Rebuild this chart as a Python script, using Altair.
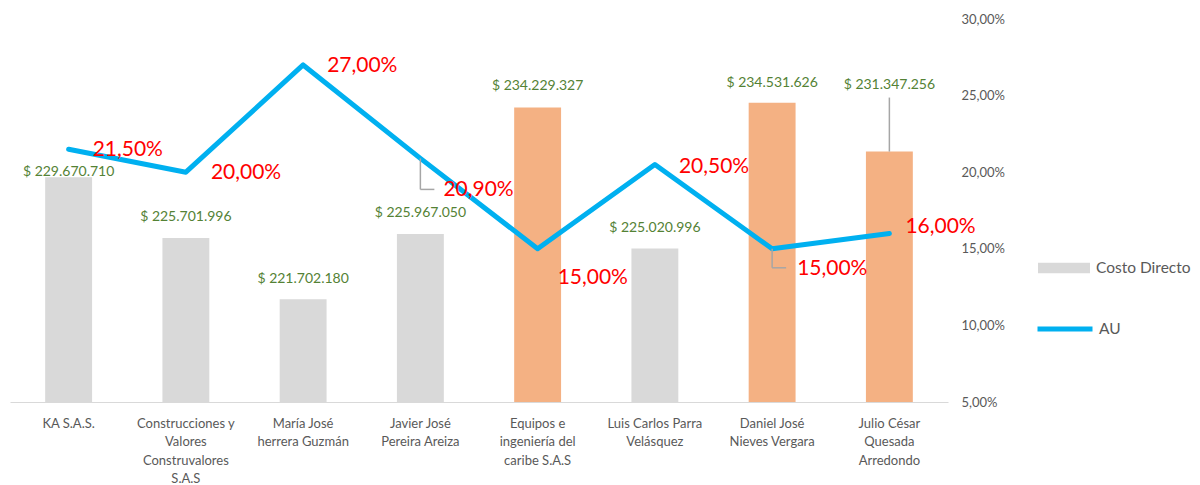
import altair as alt
import pandas as pd

# ---- data ----
categorias = [
    "KA S.A.S.",
    "Construcciones y\nValores\nConstruvalores\nS.A.S",
    "María José\nherrera Guzmán",
    "Javier José\nPereira Areiza",
    "Equipos e\ningeniería del\ncaribe S.A.S",
    "Luis Carlos Parra\nVelásquez",
    "Daniel José\nNieves Vergara",
    "Julio César\nQuesada\nArredondo",
]
costo_directo = [229670710, 225701996, 221702180, 225967050,
                 234229327, 225020996, 234531626, 231347256]
au = [21.5, 20.0, 27.0, 20.9, 15.0, 20.5, 15.0, 16.0]
eje_au_valores = [5, 10, 15, 20, 25, 30]

# ---- label nudges (pixels, layout only) ----
bar_label_dy = [-5, -21, -20, -21, -21, -20, -20, -67]
au_label_dx = [24, 25, 24, 23, 20, 24, 25, 16]
au_label_dy = [1, 1, 1, 32, 29, 2, 20, -6]

GRAY = "#d9d9d9"
ORANGE = "#f4b183"
BLUE = "#00b0f0"
GREEN = "#548235"
RED = "#ff0000"
TXT = "#595959"
LEADER = "#a6a6a6"
FONT = "Lato"

df = pd.DataFrame({
    "cat": categorias,
    "costo": costo_directo,
    "au": au,
    "idx": list(range(len(categorias))),
})
df["serie"] = ["Destacado" if v > 230000000 else "Costo Directo" for v in costo_directo]
df["serie_au"] = "AU"
df["costo_txt"] = ["$ " + f"{v:,}".replace(",", ".") for v in costo_directo]
df["au_txt"] = [f"{v:.2f}".replace(".", ",") + "%" for v in au]

base = alt.Chart(df)

x = alt.X(
    "cat:N", sort=None,
    scale=alt.Scale(paddingInner=0.6, paddingOuter=0.3),
    axis=alt.Axis(
        title=None, labelAngle=0, labelExpr="split(datum.label, '\\n')",
        domainColor=GRAY, domainWidth=1.2, ticks=False, tickSize=0,
        labelColor=TXT, labelFontSize=13, labelLineHeight=18.5,
        labelPadding=15, labelFont=FONT, grid=False,
    ),
)

ycost = alt.Y("costo:Q",
              scale=alt.Scale(domain=[215000000, 240000000], zero=False, nice=False),
              axis=None)

bar = base.mark_bar(clip=True).encode(
    x=x, y=ycost,
    fill=alt.Fill(
        "serie:N",
        scale=alt.Scale(domain=["Costo Directo", "Destacado"], range=[GRAY, ORANGE]),
        legend=alt.Legend(
            values=["Costo Directo"], title=None, orient="none",
            legendX=1028, legendY=223, padding=0,
            symbolType="M-1,-0.2H1V0.2H-1Z", symbolSize=2704,
            symbolStrokeWidth=0, labelFontSize=15.5, labelColor=TXT,
            labelFont=FONT, labelOffset=6,
        ),
    ),
)

bar_texts = []
for i, dy in enumerate(bar_label_dy):
    bar_texts.append(
        base.transform_filter(alt.datum.idx == i).mark_text(
            color=GREEN, fontSize=14, align="center", baseline="middle",
            font=FONT, dy=dy,
        ).encode(x=x, y=ycost, text="costo_txt:N")
    )

bar_leader = base.transform_filter(alt.datum.idx == 7).mark_rule(
    color=LEADER, strokeWidth=1.5, y2Offset=-54
).encode(x=x, y=ycost, y2=alt.Y2("costo:Q"))

bars_layer = alt.layer(bar, *bar_texts, bar_leader)

yau = alt.Y(
    "au:Q",
    scale=alt.Scale(domain=[5, 30], zero=False, nice=False),
    axis=alt.Axis(
        orient="right", title=None, values=eje_au_valores,
        labelExpr="replace(format(datum.value, '.2f'), '.', ',') + '%'",
        grid=False, domain=False, ticks=False, tickSize=0, labelPadding=13,
        labelFontSize=13, labelColor=TXT, labelFont=FONT,
    ),
)

line = base.mark_line(strokeWidth=5, strokeCap="round", strokeJoin="round").encode(
    x=x, y=yau,
    stroke=alt.Stroke(
        "serie_au:N",
        scale=alt.Scale(domain=["AU"], range=[BLUE]),
        legend=alt.Legend(
            title=None, orient="none", legendX=1025, legendY=280, padding=0,
            symbolType="stroke", symbolSize=3025, symbolStrokeWidth=5,
            labelFontSize=15.5, labelColor=TXT, labelFont=FONT, labelOffset=4,
        ),
    ),
)

leaders = []
for i, dy in [(3, 31), (6, 19)]:
    sub = base.transform_filter(alt.datum.idx == i)
    leaders.append(sub.mark_rule(color=LEADER, strokeWidth=1.5, y2Offset=dy).encode(
        x=x, y=yau, y2=alt.Y2("au:Q")))
    leaders.append(sub.mark_rule(color=LEADER, strokeWidth=1.5, yOffset=dy, x2Offset=14).encode(
        x=x, x2=alt.X2("cat:N"), y=yau))

line_texts = []
for i, (dx, dy) in enumerate(zip(au_label_dx, au_label_dy)):
    line_texts.append(
        base.transform_filter(alt.datum.idx == i).mark_text(
            color=RED, fontSize=21, align="left", baseline="middle",
            font=FONT, dx=dx, dy=dy,
        ).encode(x=x, y=yau, text="au_txt:N")
    )

line_layer = alt.layer(line, *leaders, *line_texts)

chart = alt.layer(bars_layer, line_layer).resolve_scale(
    y="independent", fill="independent", stroke="independent"
).properties(
    width=938, height=383,
    padding={"left": 2, "top": 5, "right": 0, "bottom": 0},
).configure(font=FONT).configure_view(stroke=None)

chart.save("out.html", embed_options={"renderer": "svg", "actions": False})
